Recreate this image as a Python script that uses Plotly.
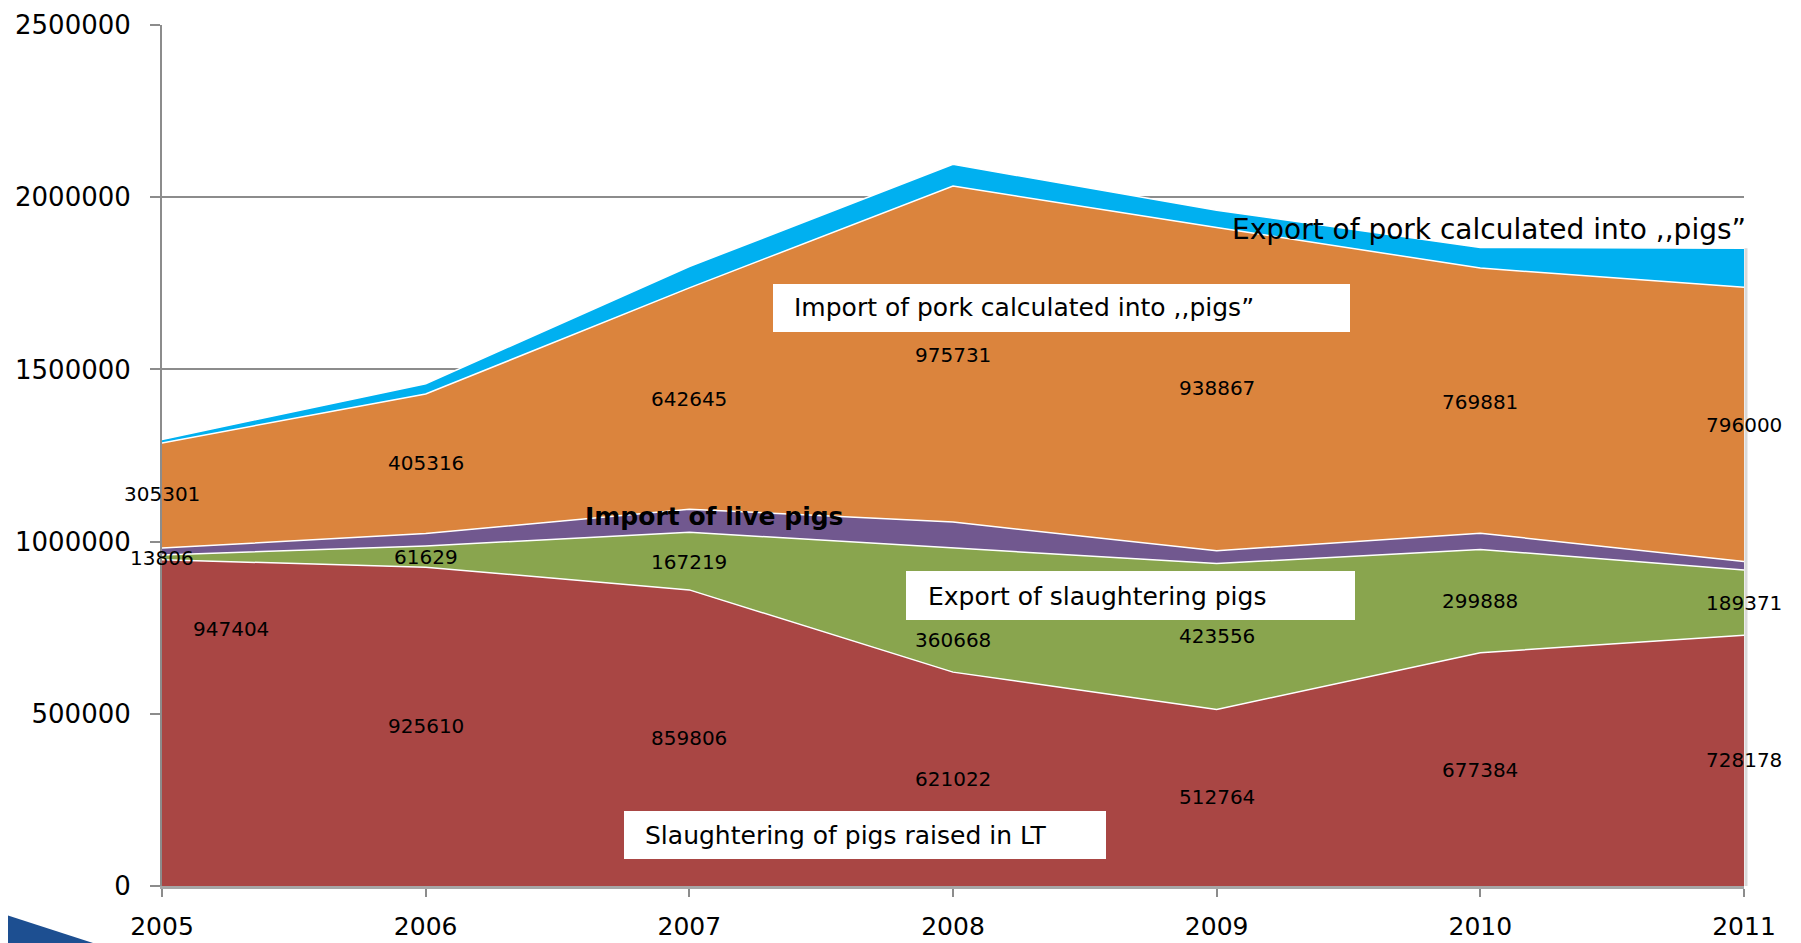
import plotly.graph_objects as go

years = [2005, 2006, 2007, 2008, 2009, 2010, 2011]

slaughter_lt = [947404, 925610, 859806, 621022, 512764, 677384, 728178]
export_slaughter = [13806, 61629, 167219, 360668, 423556, 299888, 189371]
import_live = [20000, 36000, 67000, 75000, 37000, 47000, 25000]
import_pork = [305301, 405316, 642645, 975731, 938867, 769881, 796000]
export_pork = [10000, 30000, 62000, 63000, 50000, 60000, 113000]

series_names = [
    "Slaughtering of pigs raised in LT",
    "Export of slaughtering pigs",
    "Import of live pigs",
    "Import of pork calculated into ,,pigs\u201d",
    "Export of pork calculated into ,,pigs\u201d",
]
colors = ["#A94644", "#89A54E", "#71588F", "#DB843D", "#00B0F0"]

# where the value labels sit (year, y), one list per labelled series
pos_slaughter = [(2005.26, 745000), (2006, 465000), (2007, 431000), (2008, 311000),
                 (2009, 258000), (2010, 338000), (2011, 365000)]
pos_export_sl = [(2005, 951500), (2006, 955000), (2007, 941000), (2008, 715000),
                 (2009, 725000), (2010, 828000), (2011, 822000)]
pos_import_pork = [(2005, 1138000), (2006, 1228000), (2007, 1415000), (2008, 1542000),
                   (2009, 1445000), (2010, 1405000), (2011, 1338000)]

W, H = 1801, 943
OFF = 8  # page body margin
# plot area on screen
X0, X1, Y0, Y1 = 162, 1744, 25, 886


def pxx(px):
    return (px - X0) / (X1 - X0)


def pxy(py):
    return (Y1 - py) / (Y1 - Y0)


all_series = [slaughter_lt, export_slaughter, import_live, import_pork, export_pork]

fig = go.Figure()
for vals, name, col in zip(all_series, series_names, colors):
    fig.add_trace(go.Scatter(x=years, y=vals, name=name, stackgroup="one", mode="lines",
                             line=dict(color="white", width=1.5), fillcolor=col))

annotations = []
for vals, pos in [(slaughter_lt, pos_slaughter), (export_slaughter, pos_export_sl),
                  (import_pork, pos_import_pork)]:
    for v, (xx, yy) in zip(vals, pos):
        annotations.append(dict(x=xx, y=yy, xref="x", yref="y", text=str(v), showarrow=False,
                                font=dict(family="DejaVu Sans", size=20, color="black")))

# white boxes behind series names
boxes = [(773, 284, 1350, 332), (906, 571, 1355, 620), (624, 811, 1106, 859)]
shapes = []
for x0, y0, x1, y1 in boxes:
    shapes.append(dict(type="rect", xref="paper", yref="paper", x0=pxx(x0), x1=pxx(x1),
                       y0=pxy(y1), y1=pxy(y0), fillcolor="white", line=dict(width=0), layer="above"))

# faint shadow on the right edge of the stack
stack_top = sum(s[-1] for s in all_series)
shapes.append(dict(type="line", xref="paper", yref="y", x0=pxx(X1 + 2), x1=pxx(X1 + 2),
                   y0=0, y1=stack_top, line=dict(color="#D9D9D9", width=3)))

name_labels = [
    (series_names[4], 1230, 229, 28, False),
    (series_names[3], 792, 308, 25, False),
    (series_names[2], 583, 516, 25, True),
    (series_names[1], 926, 596, 25, False),
    (series_names[0], 643, 835, 25, False),
]
for txt, x0, yc, size, bold in name_labels:
    annotations.append(dict(x=pxx(x0), y=pxy(yc), xref="paper", yref="paper", xanchor="left",
                            yanchor="middle", text=f"<b>{txt}</b>" if bold else txt, showarrow=False,
                            font=dict(family="DejaVu Sans", size=size, color="black")))

# template corner decoration
shapes.append(dict(type="path", xref="paper", yref="paper",
                   path=f"M {pxx(0)},{pxy(913)} L {pxx(93)},{pxy(943)} L {pxx(0)},{pxy(943)} Z",
                   fillcolor="#1D4F91", line=dict(width=0)))

fig.update_layout(
    width=W, height=H,
    margin=dict(l=X0 - OFF, r=W + OFF - X1, t=Y0 - OFF, b=H + OFF - Y1),
    plot_bgcolor="white", paper_bgcolor="white",
    showlegend=False,
    annotations=annotations,
    shapes=shapes,
    xaxis=dict(range=[2005, 2011], tickvals=years, ticktext=[str(y) for y in years],
               showgrid=False, zeroline=False, showline=True, linecolor="#A6A6A6", linewidth=3,
               ticks="outside", ticklen=8, tickwidth=1.5, tickcolor="#8C8C8C",
               ticklabelstandoff=8, automargin=False,
               tickfont=dict(family="DejaVu Sans", size=25, color="black")),
    yaxis=dict(range=[0, 2500000], dtick=500000, tickformat="d",
               showgrid=True, gridcolor="#8C8C8C", gridwidth=1.5, zeroline=False,
               showline=True, linecolor="#8C8C8C", linewidth=2,
               ticks="outside", ticklen=10, tickwidth=1.5, tickcolor="#8C8C8C",
               ticklabelstandoff=14, automargin=False,
               tickfont=dict(family="DejaVu Sans", size=26, color="black")),
)

fig.write_html("out.html")
